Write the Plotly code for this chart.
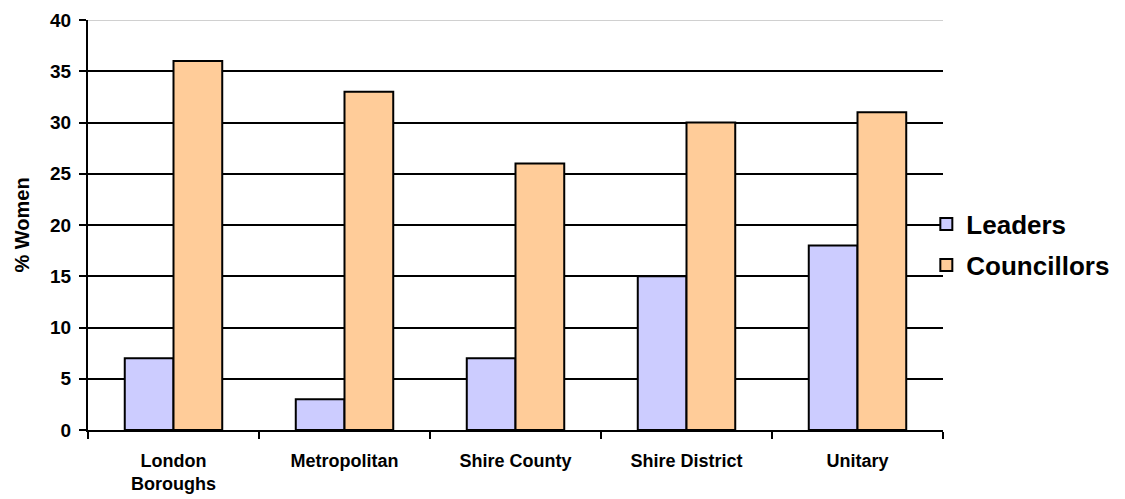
import plotly.graph_objects as go

categories = ["London<br>Boroughs", "Metropolitan", "Shire County", "Shire District", "Unitary"]
leaders = [7, 3, 7, 15, 18]
councillors = [36, 33, 26, 30, 31]

font_family = "Liberation Sans, Arial, sans-serif"

fig = go.Figure()
fig.add_trace(go.Bar(
    name="Leaders", x=categories, y=leaders, legendgroup="leaders",
    marker=dict(color="#CCCCFF", line=dict(color="#000000", width=2)),
))
fig.add_trace(go.Bar(
    name="Councillors", x=categories, y=councillors, legendgroup="councillors",
    marker=dict(color="#FFCC99", line=dict(color="#000000", width=2)),
))

fig.update_layout(
    width=1125, height=499,
    margin=dict(l=88, r=182, t=20, b=69, autoexpand=False),
    paper_bgcolor="white", plot_bgcolor="white",
    barmode="group", bargap=0.43, bargroupgap=0,
    font=dict(family=font_family, color="black"),
    showlegend=True,
    legend=dict(
        x=0.9805, y=0.452, xanchor="left", yanchor="middle",
        font=dict(size=26, family=font_family, weight="bold"),
        itemwidth=30, traceorder="grouped", tracegroupgap=4,
        bgcolor="rgba(0,0,0,0)",
    ),
)

fig.update_xaxes(
    type="category", automargin=False,
    showline=True, linecolor="black", linewidth=2,
    ticks="outside", tickson="boundaries", ticklen=7, tickwidth=2, tickcolor="black",
    tickfont=dict(size=18, family=font_family, weight="bold"),
    ticklabelstandoff=13,
    showgrid=False,
)
fig.update_yaxes(
    range=[0, 40], dtick=5, automargin=False,
    showline=True, linecolor="black", linewidth=2,
    ticks="outside", ticklen=7, tickwidth=2, tickcolor="black",
    tickfont=dict(size=19, family=font_family, weight="bold"),
    ticklabelstandoff=4,
    showgrid=True, gridcolor="black", gridwidth=2,
    zeroline=False,
    title=dict(text="% Women", font=dict(size=20, family=font_family, weight="bold"), standoff=15),
)

# light grey rule across the top of the plot area
fig.add_shape(type="line", xref="paper", yref="y", x0=0, x1=1, y0=40, y1=40,
              line=dict(color="#D0D0D0", width=2), layer="above")

fig.write_html("out.html")
